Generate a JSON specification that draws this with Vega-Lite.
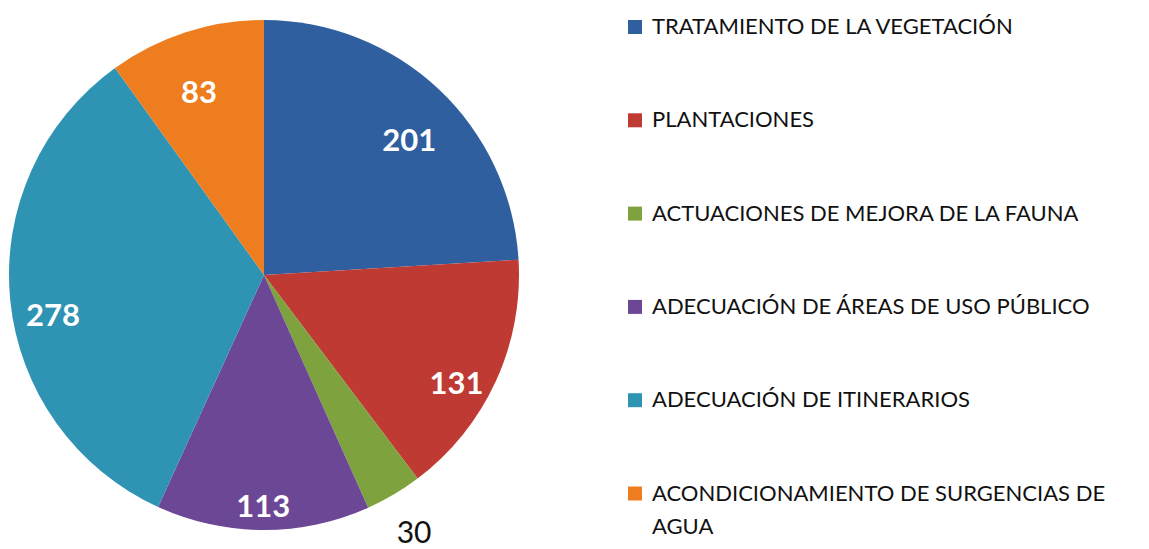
{
  "$schema": "https://vega.github.io/schema/vega-lite/v6.json",
  "width": 528,
  "height": 550,
  "padding": 0,
  "autosize": {"type": "pad"},
  "background": "white",
  "config": {"view": {"stroke": null}},
  "data": {
    "values": [
      {"categoria": "TRATAMIENTO DE LA VEGETACIÓN", "valor": 201, "orden": 1},
      {"categoria": "PLANTACIONES", "valor": 131, "orden": 2},
      {"categoria": "ACTUACIONES DE MEJORA DE LA FAUNA", "valor": 30, "orden": 3},
      {"categoria": "ADECUACIÓN DE ÁREAS DE USO PÚBLICO", "valor": 113, "orden": 4},
      {"categoria": "ADECUACIÓN DE ITINERARIOS", "valor": 278, "orden": 5},
      {"categoria": "ACONDICIONAMIENTO DE SURGENCIAS DE AGUA", "valor": 83, "orden": 6}
    ]
  },
  "encoding": {
    "theta": {"field": "valor", "type": "quantitative", "stack": true},
    "order": {"field": "orden", "type": "quantitative"},
    "color": {
      "field": "categoria",
      "type": "nominal",
      "scale": {
        "domain": [
          "TRATAMIENTO DE LA VEGETACIÓN",
          "PLANTACIONES",
          "ACTUACIONES DE MEJORA DE LA FAUNA",
          "ADECUACIÓN DE ÁREAS DE USO PÚBLICO",
          "ADECUACIÓN DE ITINERARIOS",
          "ACONDICIONAMIENTO DE SURGENCIAS DE AGUA"
        ],
        "range": ["#2F5F9F", "#BE3A33", "#7EA23E", "#6B4796", "#2F93B3", "#EE7D1F"]
      },
      "legend": {
        "orient": "none",
        "legendX": 624,
        "legendY": 16,
        "title": null,
        "padding": 0,
        "symbolType": "square",
        "symbolSize": 196,
        "symbolStrokeWidth": 0,
        "labelFont": "Lato",
        "labelFontSize": 22,
        "labelColor": "#111111",
        "labelLimit": 600,
        "labelOffset": 6,
        "rowPadding": 71.3,
        "labelExpr": "datum.label == 'ACONDICIONAMIENTO DE SURGENCIAS DE AGUA' ? ['ACONDICIONAMIENTO DE SURGENCIAS DE', 'AGUA'] : datum.label",
        "encode": {
          "labels": {
            "update": {
              "lineHeight": {"value": 33}
            }
          }
        }
      }
    }
  },
  "layer": [
    {"mark": {"type": "arc", "outerRadius": 255}},
    {
      "mark": {"type": "text", "font": "Lato", "fontSize": 31, "fontWeight": "bold", "dy": 21},
      "encoding": {
        "radius": {"field": "valor", "type": "quantitative", "scale": {"domain": [30, 31], "range": [295, 212], "clamp": true, "zero": false}},
        "color": {"value": "white"},
        "detail": {"field": "categoria", "type": "nominal"},
        "text": {"field": "valor", "type": "quantitative", "condition": {"test": "datum.valor == 30", "value": ""}}
      }
    },
    {
      "mark": {"type": "text", "font": "Lato", "fontSize": 30, "dy": 5},
      "encoding": {
        "radius": {"field": "valor", "type": "quantitative", "scale": {"domain": [30, 31], "range": [295, 212], "clamp": true, "zero": false}},
        "color": {"value": "#111111"},
        "detail": {"field": "categoria", "type": "nominal"},
        "text": {"condition": {"test": "datum.valor == 30", "field": "valor", "type": "quantitative"}, "value": ""}
      }
    }
  ]
}
